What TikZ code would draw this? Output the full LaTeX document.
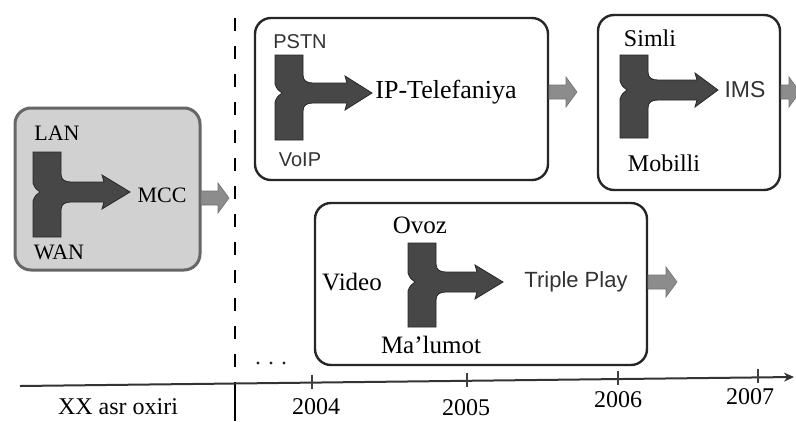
\documentclass[tikz,border=0pt]{standalone}
\usepackage{fontspec}
\setmainfont{Liberation Serif}
\newfontfamily\arialf{Liberation Sans}
\usetikzlibrary{arrows.meta}
\tikzset{
  boxw/.style={draw=black!85, line width=2.4pt, rounded corners=16pt, fill=white, inner sep=0pt},
  boxg/.style={draw=black!60, line width=3pt, rounded corners=16pt, fill=black!18, inner sep=0pt},
  serif/.style={inner sep=0pt, font=\fontsize{24}{28}\selectfont, text=black},
  sans/.style={inner sep=0pt, font=\arialf\fontsize{20}{24}\selectfont, text=black!80},
  mergefill/.style={fill=black!72, draw=black!85, line width=0.8pt},
  outfill/.style={fill=black!45, draw=black!55, line width=0.6pt},
  axisline/.style={draw=black!80, line width=2pt},
  divider/.style={draw=black, line width=1.8pt},
}
% merge arrow: #1 x0, #2 top, #3 bottom, #4 yc, #5 head start, #6 tip
\newcommand{\mrgarrow}[6]{%
  \filldraw[mergefill] (#1,#2) -- ({#1+28},#2) -- ({#1+28},{#4-18})
    .. controls ({#1+28},{#4-12}) and ({#1+32},{#4-10}) .. ({#1+38},{#4-10})
    -- (#5,{#4-10}) -- ({#5-2},{#4-17}) -- (#6,#4) -- ({#5-2},{#4+17}) -- (#5,{#4+10})
    -- ({#1+38},{#4+10})
    .. controls ({#1+32},{#4+10}) and ({#1+28},{#4+12}) .. ({#1+28},{#4+18})
    -- ({#1+28},#3) -- (#1,#3) -- (#1,{#4+9})
    .. controls ({#1+2},{#4+4}) .. ({#1+7},#4)
    .. controls ({#1+2},{#4-4}) .. (#1,{#4-9}) -- cycle;}
% out arrow: #1 x0, #2 yc, #3 tip
\newcommand{\outarrow}[3]{%
  \filldraw[outfill] (#1,{#2-7}) -- ({#3-11},{#2-7}) -- ({#3-11},{#2-15}) -- (#3,#2)
    -- ({#3-11},{#2+15}) -- ({#3-11},{#2+7}) -- (#1,{#2+7}) -- cycle;}
\begin{document}
\begin{tikzpicture}[x=1pt,y=-1pt]
\useasboundingbox (0,0) rectangle (796,421);
\fill[white] (0,0) rectangle (796,421);

% divider
\coordinate (d0) at (235,18);
\coordinate (d1) at (235,385);
\coordinate (d2) at (235,421);
\draw[divider, dash pattern=on 13pt off 15pt] (d0) -- (d1);
\draw[divider] (d1) -- (d2);

% boxes
\node[boxg, minimum width=185pt, minimum height=162pt] (b1) at (107.5,189) {};
\node[boxw, minimum width=293pt, minimum height=162pt] (b2) at (401.5,99) {};
\node[boxw, minimum width=182pt, minimum height=175pt] (b3) at (689,102.5) {};
\node[boxw, minimum width=332pt, minimum height=162pt] (b4) at (481,284) {};

% merge arrows
\mrgarrow{33}{152}{237}{192}{104}{130}
\mrgarrow{275}{55}{140}{93}{347}{372}
\mrgarrow{620}{55}{138}{90}{697}{718}
\mrgarrow{408}{243}{327}{282}{477}{503}

% out arrows
\outarrow{201}{198}{229}
\outarrow{549}{92}{577}
\outarrow{781}{92}{800}
\outarrow{648}{282}{677}

% texts box 1
\node[serif, font=\fontsize{22}{26}\selectfont] (lan) at (57,133) {LAN};
\node[serif, font=\fontsize{22}{26}\selectfont] (wan) at (59,252) {WAN};
\node[serif, font=\fontsize{22}{26}\selectfont] (mcc) at (162,195) {MCC};
% box 2
\node[sans] (pstn) at (300,42) {PSTN};
\node[sans] (voip) at (300,160) {VoIP};
\node[serif, font=\fontsize{26}{30}\selectfont] (ipt) at (446,92) {IP-Telefaniya};
% box 3
\node[serif] (simli) at (650,38) {Simli};
\node[serif] (mob) at (664,163) {Mobilli};
\node[sans, font=\arialf\fontsize{23}{26}\selectfont] (ims) at (745,90) {IMS};
% box 4
\node[serif, font=\fontsize{25}{28}\selectfont] (ovoz) at (420,225) {Ovoz};
\node[serif, font=\fontsize{25}{28}\selectfont] (video) at (352,282) {Video};
\node[serif, font=\fontsize{25}{28}\selectfont] (malu) at (431,345) {Ma'lumot};
\node[sans, font=\arialf\fontsize{22}{26}\selectfont] (tp) at (576,282) {Triple Play};

% dots
\fill[black!85] (258,363) circle (1.6) (271,363) circle (1.6) (284,363) circle (1.6);

% axis
\coordinate (ax0) at (20,386);
\coordinate (ax1) at (794,377);
\draw[axisline, -{Stealth[length=10pt,width=9pt]}] (ax0) -- (ax1);
\foreach \xx/\yy in {312/382.6, 467/380.8, 618/379.0, 758/377.4}
  \draw[black!75, line width=1.4pt] (\xx,{\yy-8}) -- (\xx,{\yy+6});

% axis labels
\node[serif] (xx) at (118,407) {XX asr oxiri};
\node[serif] (y4) at (316,407) {2004};
\node[serif] (y5) at (466,408) {2005};
\node[serif] (y6) at (618,400) {2006};
\node[serif] (y7) at (750,397) {2007};
\end{tikzpicture}
\end{document}
